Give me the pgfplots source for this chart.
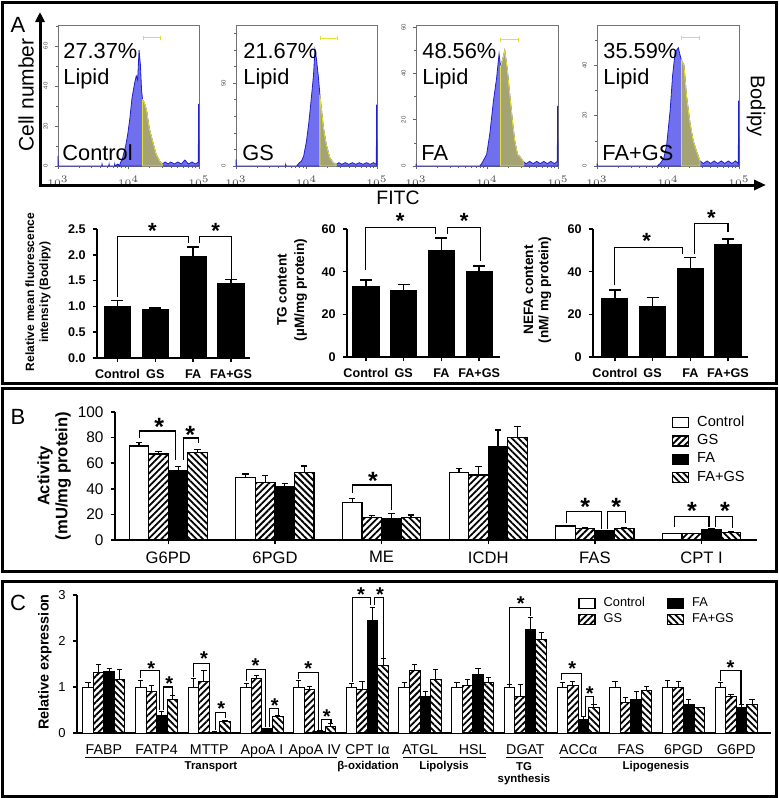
\documentclass[border=0pt]{standalone}
\usepackage{pgfplots}
\pgfplotsset{compat=1.18}
\usepackage{fontspec}
\setmainfont{Liberation Sans}
\usetikzlibrary{arrows.meta,patterns.meta}

\definecolor{histblue}{RGB}{112,112,238}
\definecolor{histline}{RGB}{30,30,210}
\definecolor{gatefill}{RGB}{165,162,115}
\definecolor{gateline}{RGB}{225,225,55}

\newcommand{\fsz}[1]{\fontsize{#1}{#1}\selectfont}

\tikzset{
  brk/.style={line width=0.55pt},
  starA/.style={font=\bfseries\fsz{11}, inner sep=0pt, yshift=-2pt},
  starB/.style={font=\bfseries\fsz{12.5}, inner sep=0pt, yshift=-2.5pt},
  starC/.style={font=\bfseries\fsz{10}, inner sep=0pt, yshift=-2pt},
}

\pgfplotsset{
  histax/.style={
    scale only axis, height=70.5pt,
    xmin=3, xmax=5, ymin=0, clip=false,
    axis line style={black!55, line width=0.35pt},
    xtick={3,4,5}, xticklabels={$10^3$,$10^4$,$10^5$},
    minor xtick={3.301,3.477,3.602,3.699,3.778,3.845,3.903,3.954,4.301,4.477,4.602,4.699,4.778,4.845,4.903,4.954},
    xtick pos=bottom, ytick pos=left, tick align=outside,
    major tick length=1.6pt, minor tick length=0.9pt,
    tick style={black!60, line width=0.3pt},
    tick label style={font=\fsz{3}, black!70},
    yticklabel style={rotate=90, anchor=south},
    /pgf/number format/assume math mode=true,
  },
  prism/.style={
    scale only axis, axis lines=left, axis line style={-, line width=0.75pt},
    tick style={black, line width=0.75pt}, tick align=outside,
    major tick length=2.2pt, ymin=0, clip=false,
    /pgf/number format/assume math mode=true,
  },
  prismA/.style={prism, xtick={0,1,2,3}, xticklabels={Control,GS,FA,FA+GS},
    tick label style={font=\bfseries\fsz{6.3}}},
  errA/.style={error bars/.cd, y dir=plus, y explicit,
    error bar style={black, line width=0.75pt},
    error mark options={black, rotate=90, mark size=3pt, line width=0.75pt}},
  errB/.style={error bars/.cd, y dir=plus, y explicit,
    error bar style={black, line width=0.6pt},
    error mark options={black, rotate=90, mark size=1.6pt, line width=0.6pt}},
  errC/.style={error bars/.cd, y dir=plus, y explicit,
    error bar style={black, line width=0.5pt},
    error mark options={black, rotate=90, mark size=1.3pt, line width=0.5pt}},
  boxleg/.style={legend image code/.code={\draw[##1,/tikz/.cd,line width=0.6pt] (0pt,-2.5pt) rectangle (8pt,2.5pt);}},
  sC/.style={draw=black, fill=white},
  sGS/.style={draw=black, pattern={Lines[angle=45,distance=2.3pt,line width=0.9pt]}},
  sFA/.style={draw=black, fill=black},
  sFG/.style={draw=black, pattern={Lines[angle=-45,distance=2.3pt,line width=0.9pt]}},
}

\begin{document}
\begin{tikzpicture}
\useasboundingbox (0,0) rectangle (389pt,-399pt);

% ================= Panel A: flow histograms =================
\begin{axis}[histax, at={(29pt,-83pt)}, anchor=south west, width=70.5pt,
  ymax=70.5, ytick={0,20,40,60}, minor ytick={10,30,50,70}]
\addplot[fill=histblue, draw=histline, line width=0.4pt] table {
3.000 5
3.004 0
3.620 0
3.625 1
3.630 0
3.720 0
3.725 1
3.730 0
3.800 0
3.805 1
3.810 0
3.850 1
3.870 0
3.890 2
3.910 3
3.930 6
3.960 10
3.990 16
4.020 24
4.050 34
4.070 38
4.090 42
4.110 45
4.130 43
4.150 58
4.170 50
4.185 38
4.200 33
4.220 32
4.240 30
4.260 27
4.280 22
4.300 18
4.330 14
4.360 10
4.390 6
4.420 4
4.450 2
4.480 1
4.520 2
4.560 1
4.600 2
4.650 1
4.700 2
4.750 1
4.800 3
4.850 1
4.900 2
4.950 1
4.990 2
4.995 31
5.000 0
} \closedcycle;
\addplot[fill=gatefill, draw=gateline, line width=0.4pt] table {
4.200 33
4.220 32
4.240 30
4.260 27
4.280 22
4.300 18
4.330 14
4.360 10
4.390 6
4.420 4
4.450 2
4.480 1
} \closedcycle;
\draw[gateline, line width=0.5pt, {Bar[width=2pt]}-{Bar[width=2pt]}] (axis cs:4.2,64) -- (axis cs:4.46,64);
\end{axis}

\begin{axis}[histax, at={(118pt,-83pt)}, anchor=south west, width=70.5pt,
  ymax=85, ytick={0,50}, minor ytick={10,20,30,40,60,70,80}]
\addplot[fill=histblue, draw=histline, line width=0.4pt] table {
3.000 4
3.004 0
3.700 0
3.705 1
3.710 0
3.860 0
3.880 1
3.900 2
3.930 3
3.960 6
4.000 15
4.030 25
4.050 33
4.080 46
4.100 55
4.120 70
4.140 65
4.170 53
4.190 43
4.215 33
4.240 23
4.280 13
4.330 5
4.380 2
4.420 1
4.460 2
4.500 1
4.550 2
4.600 1
4.650 2
4.700 1
4.750 2
4.800 1
4.850 2
4.900 1
4.950 2
4.990 1
4.995 37
5.000 0
} \closedcycle;
\addplot[fill=gatefill, draw=gateline, line width=0.4pt] table {
4.190 43
4.215 33
4.240 23
4.280 13
4.330 5
4.380 2
4.420 1
} \closedcycle;
\draw[gateline, line width=0.5pt, {Bar[width=2pt]}-{Bar[width=2pt]}] (axis cs:4.19,77) -- (axis cs:4.45,77);
\end{axis}

\begin{axis}[histax, at={(208pt,-83pt)}, anchor=south west, width=71pt,
  ymax=61, ytick={0,20,40,60}, minor ytick={10,30,50}]
\addplot[fill=histblue, draw=histline, line width=0.4pt] table {
3.000 1
3.004 0
3.900 0
3.925 1
3.960 3
3.995 5
4.040 14
4.090 28
4.135 38
4.155 44
4.170 48.5
4.190 43
4.220 46
4.250 50
4.285 42
4.320 31
4.360 19
4.390 11
4.430 5
4.465 4
4.510 2
4.550 1
4.600 2
4.650 1
4.700 2
4.750 1
4.800 2
4.850 1
4.900 2
4.950 1
4.990 2
4.995 26
5.000 0
} \closedcycle;
\addplot[fill=gatefill, draw=gateline, line width=0.4pt] table {
4.190 43
4.220 46
4.250 50
4.285 42
4.320 31
4.360 19
4.390 11
4.430 5
4.465 4
4.510 2
} \closedcycle;
\draw[gateline, line width=0.5pt, {Bar[width=2pt]}-{Bar[width=2pt]}] (axis cs:4.19,54.6) -- (axis cs:4.455,54.6);
\end{axis}

\begin{axis}[histax, at={(298.5pt,-83pt)}, anchor=south west, width=71pt,
  ymax=56, ytick={0,20,40}, minor ytick={10,30,50}]
\addplot[fill=histblue, draw=histline, line width=0.4pt] table {
3.000 1
3.004 0
3.850 0
3.890 1
3.940 3
3.980 8
4.030 22
4.065 36
4.100 45
4.145 47
4.170 44
4.190 42
4.225 40
4.260 28
4.310 17
4.355 10
4.400 6
4.450 2
4.500 1
4.550 2
4.600 1
4.650 2
4.700 1
4.750 2
4.800 1
4.850 2
4.900 1
4.950 2
4.990 1
4.995 26
5.000 0
} \closedcycle;
\addplot[fill=gatefill, draw=gateline, line width=0.4pt] table {
4.190 42
4.225 40
4.260 28
4.310 17
4.355 10
4.400 6
4.450 2
} \closedcycle;
\draw[gateline, line width=0.5pt, {Bar[width=2pt]}-{Bar[width=2pt]}] (axis cs:4.19,51) -- (axis cs:4.45,51);
\end{axis}

% ================= Panel A: bar charts =================
\begin{axis}[prismA, at={(48.5pt,-179pt)}, anchor=south west, width=76.5pt, height=64.5pt,
  xmin=-0.54, xmax=3.5, ymax=2.5, ytick={0,0.5,1,1.5,2,2.5},
  yticklabel style={/pgf/number format/.cd, fixed, fixed zerofill, precision=1}]
\addplot[ybar, bar width=0.69, sFA, line width=0.6pt, errA] coordinates {
  (0,1.00) +- (0,0.11) (1,0.93) +- (0,0.04) (2,1.97) +- (0,0.18) (3,1.44) +- (0,0.08)};
\draw[brk] (axis cs:0,1.19) |- (axis cs:1.88,2.35) -- (axis cs:1.88,2.22);
\draw[brk] (axis cs:2.16,2.22) |- (axis cs:3.01,2.35) -- (axis cs:3.01,1.54);
\node[starA] at (axis cs:0.92,2.54) {*};
\node[starA] at (axis cs:2.59,2.54) {*};
\end{axis}

\begin{axis}[prismA, at={(173.5pt,-178.5pt)}, anchor=south west, width=76.5pt, height=64pt,
  xmin=-0.5, xmax=3.55, ymax=60, ytick={0,20,40,60}]
\addplot[ybar, bar width=0.69, sFA, line width=0.6pt, errA] coordinates {
  (0,33.2) +- (0,2.8) (1,31.3) +- (0,2.7) (2,50.0) +- (0,5.7) (3,39.9) +- (0,2.8)};
\draw[brk] (axis cs:0,41) |- (axis cs:1.84,60.5) -- (axis cs:1.84,57.8);
\draw[brk] (axis cs:2.17,57.8) |- (axis cs:3.04,60.5) -- (axis cs:3.04,44.9);
\node[starA] at (axis cs:0.91,65.6) {*};
\node[starA] at (axis cs:2.6,65.6) {*};
\end{axis}

\begin{axis}[prismA, at={(296.5pt,-178.5pt)}, anchor=south west, width=77.5pt, height=64pt,
  xmin=-0.58, xmax=3.53, ymax=60, ytick={0,20,40,60}]
\addplot[ybar, bar width=0.69, sFA, line width=0.6pt, errA] coordinates {
  (0,27.6) +- (0,3.7) (1,23.4) +- (0,4.5) (2,41.6) +- (0,5.0) (3,52.8) +- (0,2.5)};
\draw[brk] (axis cs:0,33.6) |- (axis cs:1.8,51.5) -- (axis cs:1.8,48.5);
\draw[brk] (axis cs:2.12,48.5) |- (axis cs:3.0,62.5) -- (axis cs:3.0,58.5);
\node[starA] at (axis cs:0.84,56.2) {*};
\node[starA] at (axis cs:2.56,67.1) {*};
\end{axis}

% ================= Panel B =================
% each bar sits at group index + its offset inside the group
\begin{axis}[prism, at={(57.5pt,-270pt)}, anchor=south west, width=321pt, height=64pt,
  xmin=-0.5, xmax=5.52, ymax=100, ytick={0,20,40,60,80,100},
  xtick={0,...,5}, xticklabels={G6PD,6PGD,ME,ICDH,FAS,CPT I},
  yticklabel style={font=\fsz{7.7}}, xticklabel style={font=\fsz{8.3}},
  legend style={at={(rel axis cs:0.867,0.99)}, anchor=north west, draw=none, fill=none,
    font=\fsz{7.3}, row sep=0.6pt, inner sep=0pt, nodes={inner sep=1pt},
    /tikz/every odd column/.append style={column sep=3pt}},
  legend cell align=left]
\addplot[ybar, bar width=0.183, sC, line width=0.6pt, boxleg, errB] coordinates {
  (-0.275,73.4) +- (0,2.6) (0.725,49.0) +- (0,2.6) (1.725,29.4) +- (0,3.1)
  (2.725,52.6) +- (0,3.4) (3.725,11.0) +- (0,0.5) (4.725,5.0) +- (0,0.3)};
\addlegendentry{Control}
\addplot[ybar, bar width=0.183, sGS, line width=0.6pt, boxleg, errB] coordinates {
  (-0.0917,67.2) +- (0,1.8) (0.9083,45.0) +- (0,5.2) (1.9083,17.7) +- (0,1.5)
  (2.9083,50.8) +- (0,6.5) (3.9083,9.0) +- (0,0.5) (4.9083,5.0) +- (0,0.3)};
\addlegendentry{GS}
\addplot[ybar, bar width=0.183, sFA, line width=0.6pt, boxleg, errB] coordinates {
  (0.0917,54.2) +- (0,3.1) (1.0917,41.7) +- (0,2.6) (2.0917,17.0) +- (0,3.8)
  (3.0917,72.9) +- (0,13.1) (4.0917,7.0) +- (0,0.5) (5.0917,8.5) +- (0,0.8)};
\addlegendentry{FA}
\addplot[ybar, bar width=0.183, sFG, line width=0.6pt, boxleg, errB] coordinates {
  (0.275,68.2) +- (0,2.8) (1.275,52.9) +- (0,4.9) (2.275,17.7) +- (0,1.8)
  (3.275,80.2) +- (0,8.3) (4.275,9.0) +- (0,0.5) (5.275,6.0) +- (0,0.5)};
\addlegendentry{FA+GS}
\draw[brk] (axis cs:-0.27,79.7) |- (axis cs:0.066,85.2) -- (axis cs:0.066,62.5);
\draw[brk] (axis cs:0.14,62.5) |- (axis cs:0.28,79.7) -- (axis cs:0.28,75.8);
\draw[brk] (axis cs:1.73,36.7) |- (axis cs:2.09,43) -- (axis cs:2.09,23.4);
\draw[brk] (axis cs:3.73,13) |- (axis cs:4.06,22.1) -- (axis cs:4.06,8.3);
\draw[brk] (axis cs:4.12,8.3) |- (axis cs:4.29,22.1) -- (axis cs:4.29,13);
\draw[brk] (axis cs:4.745,10.4) |- (axis cs:5.07,18.2) -- (axis cs:5.07,9.8);
\draw[brk] (axis cs:5.13,9.8) |- (axis cs:5.29,18.2) -- (axis cs:5.29,9.1);
\node[starB] at (axis cs:-0.084,92.4) {*};
\node[starB] at (axis cs:0.206,86) {*};
\node[starB] at (axis cs:1.92,50) {*};
\node[starB] at (axis cs:3.91,30) {*};
\node[starB] at (axis cs:4.2,30) {*};
\node[starB] at (axis cs:4.91,26.6) {*};
\node[starB] at (axis cs:5.22,26.6) {*};
\end{axis}

% ================= Panel C =================
\begin{axis}[prism, at={(38.5pt,-366.5pt)}, anchor=south west, width=347pt, height=69pt,
  xmin=-0.51, xmax=12.66, ymax=3, ytick={0,1,2,3},
  xtick={0,...,12},
  xticklabels={FABP,FATP4,MTTP,ApoA I,ApoA IV,CPT Iα,ATGL,HSL,DGAT,ACCα,FAS,6PGD,G6PD},
  xtick style={draw=none},
  yticklabel style={font=\fsz{6.5}}, xticklabel style={font=\fsz{7.1}},
  legend columns=2, transpose legend,
  legend style={at={(rel axis cs:0.722,1.0)}, anchor=north west, draw=none, fill=none,
    font=\fsz{6.4}, row sep=0pt, inner sep=0pt, nodes={inner sep=1pt},
    /tikz/every odd column/.append style={column sep=3pt},
    /tikz/every even column/.append style={column sep=10pt}},
  legend cell align=left]
\addplot[ybar, bar width=0.2, sC, line width=0.5pt, boxleg, errC] coordinates {
  (-0.3,1) +- (0,0.1) (0.7,1) +- (0,0.15) (1.7,1) +- (0,0.19) (2.7,1) +- (0,0.08)
  (3.7,1) +- (0,0.15) (4.7,1) +- (0,0.08) (5.7,1) +- (0,0.09) (6.7,1) +- (0,0.09)
  (7.7,1) +- (0,0.06) (8.7,1) +- (0,0.1) (9.7,1) +- (0,0.12) (10.7,1) +- (0,0.15) (11.7,1) +- (0,0.09)};
\addlegendentry{Control}
\addplot[ybar, bar width=0.2, sGS, line width=0.5pt, boxleg, errC] coordinates {
  (-0.1,1.31) +- (0,0.17) (0.9,0.90) +- (0,0.13) (1.9,1.12) +- (0,0.23) (2.9,1.19) +- (0,0.07)
  (3.9,0.95) +- (0,0.06) (4.9,0.95) +- (0,0.17) (5.9,1.35) +- (0,0.14) (6.9,1.04) +- (0,0.13)
  (7.9,0.79) +- (0,0.27) (8.9,1.03) +- (0,0.1) (9.9,0.66) +- (0,0.11) (10.9,1.0) +- (0,0.12) (11.9,0.79) +- (0,0.04)};
\addlegendentry{GS}
\addplot[ybar, bar width=0.2, sFA, line width=0.5pt, boxleg, errC] coordinates {
  (0.1,1.33) +- (0,0.08) (1.1,0.39) +- (0,0.07) (2.1,0.02) +- (0,0.005) (3.1,0.09) +- (0,0.01)
  (4.1,0.04) +- (0,0.01) (5.1,2.44) +- (0,0.29) (6.1,0.79) +- (0,0.12) (7.1,1.28) +- (0,0.12)
  (8.1,2.25) +- (0,0.26) (9.1,0.30) +- (0,0.06) (10.1,0.73) +- (0,0.18) (11.1,0.62) +- (0,0.11) (12.1,0.55) +- (0,0.06)};
\addlegendentry{FA}
\addplot[ybar, bar width=0.2, sFG, line width=0.5pt, boxleg, errC] coordinates {
  (0.3,1.17) +- (0,0.21) (1.3,0.72) +- (0,0.09) (2.3,0.25) +- (0,0.03) (3.3,0.36) +- (0,0.02)
  (4.3,0.15) +- (0,0.06) (5.3,1.46) +- (0,0.15) (6.3,1.17) +- (0,0.21) (7.3,1.09) +- (0,0.11)
  (8.3,2.04) +- (0,0.14) (9.3,0.56) +- (0,0.06) (10.3,0.93) +- (0,0.08) (11.3,0.55) +- (0,0.005) (12.3,0.62) +- (0,0.1)};
\addlegendentry{FA+GS}
\draw[brk] (axis cs:0.7,1.19) |- (axis cs:1.05,1.35) -- (axis cs:1.05,0.5);
\draw[brk] (axis cs:1.14,0.5) |- (axis cs:1.31,1.0) -- (axis cs:1.31,0.83);
\draw[brk] (axis cs:1.7,1.22) |- (axis cs:2.01,1.51) -- (axis cs:2.01,0.07);
\draw[brk] (axis cs:2.12,0.07) |- (axis cs:2.31,0.44) -- (axis cs:2.31,0.32);
\draw[brk] (axis cs:2.7,1.12) |- (axis cs:3.07,1.38) -- (axis cs:3.07,0.14);
\draw[brk] (axis cs:3.15,0.14) |- (axis cs:3.31,0.54) -- (axis cs:3.31,0.39);
\draw[brk] (axis cs:3.7,1.17) |- (axis cs:4.07,1.31) -- (axis cs:4.07,0.07);
\draw[brk] (axis cs:4.13,0.07) |- (axis cs:4.31,0.29) -- (axis cs:4.31,0.22);
\draw[brk] (axis cs:4.71,1.1) |- (axis cs:5.06,2.95) -- (axis cs:5.06,2.78);
\draw[brk] (axis cs:5.14,2.78) |- (axis cs:5.31,2.95) -- (axis cs:5.31,1.63);
\draw[brk] (axis cs:7.7,1.07) |- (axis cs:8.1,2.72) -- (axis cs:8.1,2.55);
\draw[brk] (axis cs:8.69,1.15) |- (axis cs:9.065,1.30) -- (axis cs:9.065,0.38);
\draw[brk] (axis cs:9.14,0.38) |- (axis cs:9.3,0.79) -- (axis cs:9.3,0.64);
\draw[brk] (axis cs:11.7,1.12) |- (axis cs:12.09,1.35) -- (axis cs:12.09,0.64);
\node[starC] at (axis cs:0.9,1.48) {*};
\node[starC] at (axis cs:1.24,1.15) {*};
\node[starC] at (axis cs:1.9,1.7) {*};
\node[starC] at (axis cs:2.23,0.61) {*};
\node[starC] at (axis cs:2.88,1.55) {*};
\node[starC] at (axis cs:3.245,0.68) {*};
\node[starC] at (axis cs:3.88,1.49) {*};
\node[starC] at (axis cs:4.23,0.45) {*};
\node[starC] at (axis cs:4.88,3.1) {*};
\node[starC] at (axis cs:5.24,3.1) {*};
\node[starC] at (axis cs:7.91,2.89) {*};
\node[starC] at (axis cs:8.89,1.48) {*};
\node[starC] at (axis cs:9.22,0.95) {*};
\node[starC] at (axis cs:11.89,1.51) {*};
\end{axis}

% ================= frames, labels (pixel units) =================
\begin{scope}[x=0.5pt, y=-0.5pt]
\draw[line width=1.5pt] (2,2) rectangle (776,383);
\draw[line width=1.5pt] (2,388.5) rectangle (776,571.5);
\draw[line width=1.5pt] (2,581) rectangle (776,796.5);
\node[font=\fsz{11}] at (18,25) {A};
\node[font=\fsz{11}] at (18,417) {B};
\node[font=\fsz{11}] at (18,603) {C};
\draw[line width=1.5pt, {Triangle[length=5pt,width=4.5pt]}-{Triangle[length=6pt,width=5pt]}] (40,12) -- (40,185) -- (766,185);
\node[rotate=90, font=\fsz{10.5}] at (26,95) {Cell number};
\node[font=\fsz{9.7}] at (398,198) {FITC};
\node[rotate=-90, font=\fsz{10}] at (756,106) {Bodipy};
\foreach \x/\p/\n in {63/27.37/Control, 243/21.67/GS, 422/48.56/FA, 603/35.59/FA+GS} {
  \node[anchor=base west, font=\fsz{10.9}, inner sep=0pt] at (\x,58) {\p\%};
  \node[anchor=base west, font=\fsz{10.9}, inner sep=0pt] at (\x,84) {Lipid};
  \node[anchor=base west, font=\fsz{10.9}, inner sep=0pt] at (\x-1,160) {\n};
}
% y labels of the bar charts
\node[rotate=90, font=\bfseries\fontsize{6}{7}\selectfont, align=center] at (38,292) {Relative mean fluorescence\\intensity (Bodipy)};
\node[rotate=90, font=\bfseries\fontsize{6.8}{8.7}\selectfont, align=center] at (292,290) {TG content\\(µM/mg protein)};
\node[rotate=90, font=\bfseries\fontsize{6.8}{7.6}\selectfont, align=center] at (537.5,290) {NEFA content\\(nM/ mg protein)};
\node[rotate=90, font=\bfseries\fontsize{8.3}{9}\selectfont, align=center] at (54,476) {Activity\\(mU/mg protein)};
\node[rotate=90, font=\bfseries\fsz{7.2}] at (45,662) {Relative expression};
% group brackets of panel C
\foreach \a/\b in {85/337, 347/390, 403/486, 506/543, 560/753} {
  \draw[line width=0.5pt] (\a,757) -- (\b,757);
}
\begin{scope}[every node/.style={font=\bfseries\fsz{5.7}}]
\node at (211,767) {Transport};
\node at (368,767) {β-oxidation};
\node at (444,767) {Lipolysis};
\node at (524,767) {TG};
\node at (524,780) {synthesis};
\node at (656,767) {Lipogenesis};
\end{scope}
\end{scope}
\end{tikzpicture}
\end{document}
